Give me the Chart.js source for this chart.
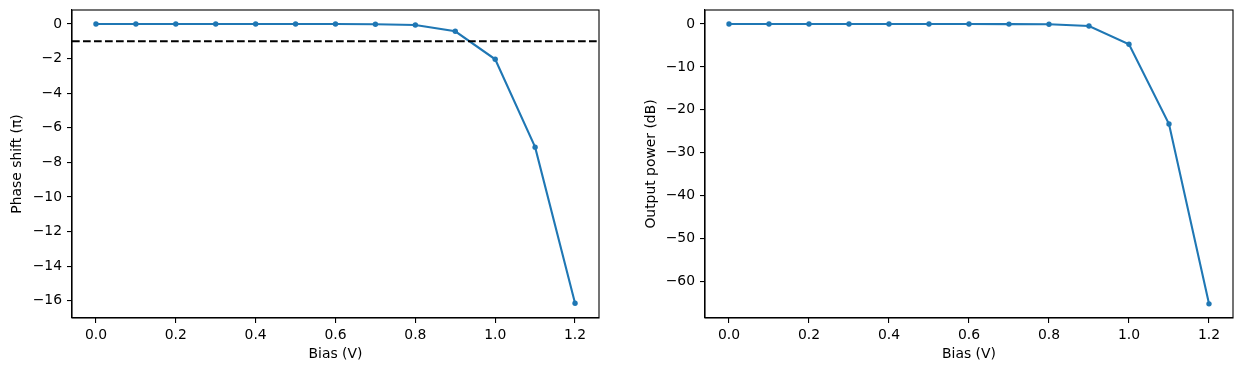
<!DOCTYPE html>
<html lang="en">
<head>
  <meta charset="UTF-8">
  <title>Phase shift and output power vs bias</title>
  <script src="https://cdn.jsdelivr.net/npm/chart.js"></script>
  <style>
   body { margin: 0; background: #fff; width: 1243px; height: 371px; position: relative; overflow: hidden; }
   canvas { position: absolute; top: 0; }
  </style>
</head>
<body>
  <canvas id="phaseChart" width="620" height="371" style="left:0; width:620px; height:371px;"></canvas>
  <canvas id="powerChart" width="623" height="371" style="left:620px; width:623px; height:371px;"></canvas>

  <script>
    // data
    const bias        = [0.0, 0.1, 0.2, 0.3, 0.4, 0.5, 0.6, 0.7, 0.8, 0.9, 1.0, 1.1, 1.2];
    const phaseShift  = [0, 0, 0, 0, 0, 0, 0, -0.01, -0.06, -0.42, -2.04, -7.12, -16.15];
    const outputPower = [0, 0, 0, 0, 0, 0, 0, -0.02, -0.07, -0.47, -4.73, -23.3, -65.2];
    const phaseRef    = -1;   // dashed reference line

    const biasTicks  = [0.0, 0.2, 0.4, 0.6, 0.8, 1.0, 1.2];
    const phaseTicks = [0, -2, -4, -6, -8, -10, -12, -14, -16];
    const powerTicks = [0, -10, -20, -30, -40, -50, -60];

    const BLUE = '#1f77b4';
    const FONT = { family: 'DejaVu Sans', size: 13.9 };
    Chart.defaults.font.family = 'DejaVu Sans';
    Chart.defaults.color = '#000';

    function fmt(v, dec) {
      const s = Math.abs(v).toFixed(dec);
      return v < 0 ? '\u2212' + s : s;
    }

    // matplotlib-like box around the axes
    const frame = {
      id: 'frame',
      afterDraw(chart) {
        const a = chart.chartArea, c = chart.ctx;
        c.save();
        c.strokeStyle = '#000'; c.lineWidth = 1.1;
        c.strokeRect(a.left, a.top, a.right - a.left, a.bottom - a.top);
        c.restore();
      }
    };

    function makeChart(id, values, yTicks, yMin, yMax, yTitle, yWidth, yTitlePad, padRight, extra) {
      const datasets = [{
        data: bias.map((x, i) => ({ x: x, y: values[i] })),
        borderColor: BLUE, backgroundColor: BLUE, borderWidth: 2.1,
        pointRadius: 2.7, pointBorderWidth: 0, pointHoverRadius: 2.7, order: 1
      }];
      if (extra) datasets.push(extra);
      return new Chart(document.getElementById(id), {
        type: 'line',
        data: { datasets: datasets },
        plugins: [frame],
        options: {
          responsive: false, animation: false, events: [],
          layout: { padding: { top: 10, right: padRight, bottom: 0, left: 0 } },
          plugins: { legend: { display: false }, tooltip: { enabled: false } },
          scales: {
            x: {
              type: 'linear', min: -0.06, max: 1.26,
              afterBuildTicks: s => { s.ticks = biasTicks.map(v => ({ value: v })); },
              afterFit: s => { s.height = 53; s.paddingLeft = 0; s.paddingRight = 0; },
              ticks: { font: FONT, color: '#000', padding: 4, maxRotation: 0, callback: v => fmt(v, 1) },
              grid: { drawOnChartArea: false, tickLength: 5, color: '#000', lineWidth: 1.1 },
              border: { color: '#000', width: 1.1 },
              title: { display: true, text: 'Bias (V)', font: FONT, color: '#000', padding: { top: 0, bottom: 8 } }
            },
            y: {
              type: 'linear', min: yMin, max: yMax,
              afterBuildTicks: s => { s.ticks = yTicks.map(v => ({ value: v })); },
              afterFit: s => { s.width = yWidth; s.paddingTop = 0; s.paddingBottom = 0; },
              ticks: { font: FONT, color: '#000', padding: 5, callback: v => fmt(v, 0) },
              grid: { drawOnChartArea: false, tickLength: 5, color: '#000', lineWidth: 1.1 },
              border: { color: '#000', width: 1.1 },
              title: { display: true, text: yTitle, font: FONT, color: '#000', padding: { top: yTitlePad, bottom: 0 } }
            }
          }
        }
      });
    }

    // left panel: phase shift, with the dashed line across the whole axes
    makeChart('phaseChart', phaseShift, phaseTicks, -17.0, 0.81, 'Phase shift (\u03C0)', 72, 9, 21, {
      data: [{ x: -0.06, y: phaseRef }, { x: 1.26, y: phaseRef }],
      borderColor: '#000', borderWidth: 2.1, borderDash: [7.7, 3.3],
      pointRadius: 0, order: 0
    });

    // right panel: output power
    makeChart('powerChart', outputPower, powerTicks, -68.5, 3.26, 'Output power (dB)', 85, 23.5, 10, null);
  </script>
</body>
</html>
